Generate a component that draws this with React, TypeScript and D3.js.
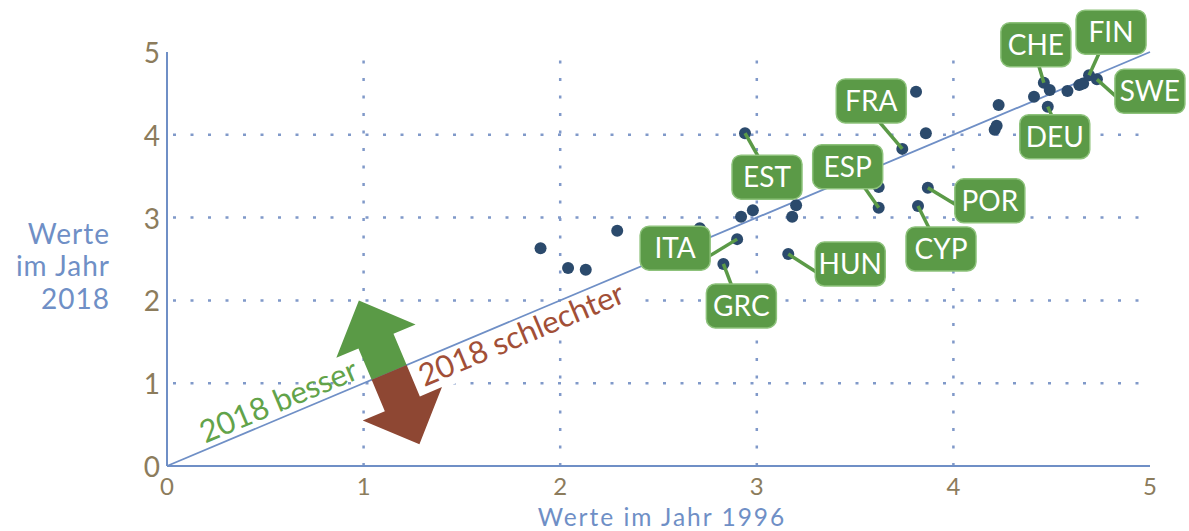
import React from 'react';
import * as d3 from 'd3';

// country scores: 1996 (x) vs 2018 (y); '' = unlabeled point
const codes = ['', '', '', '', '', 'ITA', 'GRC', '', '', 'EST', 'HUN', '', '', 'ESP', '', 'FRA',
  '', '', 'CYP', 'POR', '', '', '', '', 'CHE', '', 'DEU', '', '', '', 'FIN', 'SWE'];
const x1996 = [1.90, 2.04, 2.13, 2.29, 2.71, 2.90, 2.83, 2.92, 2.98, 2.94, 3.16, 3.18, 3.20, 3.62, 3.62, 3.74,
  3.81, 3.86, 3.82, 3.87, 4.21, 4.22, 4.23, 4.41, 4.46, 4.49, 4.48, 4.58, 4.64, 4.66, 4.69, 4.73];
const y2018 = [2.63, 2.39, 2.37, 2.84, 2.87, 2.74, 2.44, 3.01, 3.09, 4.02, 2.56, 3.01, 3.15, 3.12, 3.37, 3.83,
  4.52, 4.02, 3.14, 3.36, 4.06, 4.11, 4.36, 4.46, 4.63, 4.54, 4.34, 4.53, 4.60, 4.62, 4.72, 4.67];
const ticks = [0, 1, 2, 3, 4, 5];
const gridTicks = [1, 2, 3, 4];

// callout placement (pixel offset of box centre from point, and tail anchor on the box)
const callouts: Record<string, { dx: number; dy: number; ax: number; ay: number }> = {
  EST: { dx: 22, dy: 44, ax: -9, ay: -21 },
  ESP: { dx: -31, dy: -41, ax: 17, ay: 21 },
  FRA: { dx: -31, dy: -48, ax: 8, ay: 21 },
  HUN: { dx: 62, dy: 10, ax: -34, ay: 8 },
  CYP: { dx: 23, dy: 43, ax: -12, ay: -21 },
  POR: { dx: 62, dy: 13, ax: -34, ay: 4 },
  ITA: { dx: -62, dy: 9, ax: 34, ay: 8 },
  GRC: { dx: 18, dy: 42, ax: -10, ay: -21 },
  CHE: { dx: -8, dy: -38, ax: 3, ay: 21 },
  FIN: { dx: 22, dy: -43, ax: -12, ay: 21 },
  SWE: { dx: 53, dy: 12, ax: -34, ay: 5 },
  DEU: { dx: 7, dy: 30, ax: -3, ay: -21 },
};

const W = 1189;
const H = 531;
const axisBlue = '#6f8fc6';
const tickBrown = '#8c7c5c';
const boxGreen = '#5b9a47';
const font = 'Lato, "Open Sans", sans-serif';

export default function App() {
  const x = d3.scaleLinear().domain([0, 5]).range([167, 1150]);
  const y = d3.scaleLinear().domain([0, 5]).range([466, 52]);

  // angle of the y = x line on screen
  const ang = (Math.atan2(y(5) - y(0), x(5) - x(0)) * 180) / Math.PI;
  const arrowAt = 1.13;
  const besserAt = 0.6;
  const schlechterAt = 1.77;

  const L = 78, HL = 44, HW = 43, SW = 19;
  const greenArrow = `M0,${-L} L${HW},${-L + HL} L${SW},${-L + HL} L${SW},0 L${-SW},0 L${-SW},${-L + HL} L${-HW},${-L + HL} Z`;
  const redArrow = `M0,${L} L${HW},${L - HL} L${SW},${L - HL} L${SW},0 L${-SW},0 L${-SW},${L - HL} L${-HW},${L - HL} Z`;

  const pts = codes.map((c, i) => ({ code: c, px: x(x1996[i]), py: y(y2018[i]) }));

  return (
    <svg width={W} height={H} style={{ position: 'absolute', left: 0, top: 0, background: '#fff' }} fontFamily={font}>
      {/* grid */}
      {gridTicks.map(t => (
        <g key={'g' + t} stroke="#8099c9" strokeWidth={2.5} strokeDasharray="3 14.5">
          <line x1={x(t)} x2={x(t)} y1={y(0)} y2={y(4.9)} />
          <line x1={x(0) + 6} x2={x(4.95)} y1={y(t)} y2={y(t)} />
        </g>
      ))}

      {/* axes */}
      <line x1={x(0)} x2={x(0)} y1={y(0)} y2={y(5)} stroke={axisBlue} strokeWidth={2} />
      <line x1={x(0)} x2={x(5)} y1={y(0)} y2={y(0)} stroke={axisBlue} strokeWidth={2} />
      {ticks.map(t => (
        <text key={'y' + t} x={x(0) - 7} y={y(t) + 11} textAnchor="end" fontSize={28} fill={tickBrown}>{t}</text>
      ))}
      {ticks.map(t => (
        <text key={'x' + t} x={x(t)} y={495} textAnchor="middle" fontSize={24} fill={tickBrown}>{t}</text>
      ))}
      <text x={662} y={525.5} textAnchor="middle" fontSize={24.5} letterSpacing={2} fill={axisBlue}>Werte im Jahr 1996</text>
      <text textAnchor="end" fontSize={28} letterSpacing={1} fill={axisBlue}>
        <tspan x={110} y={244}>Werte</tspan>
        <tspan x={110} y={276}>im Jahr</tspan>
        <tspan x={110} y={309}>2018</tspan>
      </text>

      {/* diagonal */}
      <line x1={x(0)} y1={y(0)} x2={x(5)} y2={y(5)} stroke={axisBlue} strokeWidth={1.8} />

      {/* annotations along the diagonal */}
      <g transform={`translate(${x(besserAt)},${y(besserAt)}) rotate(${ang})`}>
        <text y={-6} textAnchor="middle" fontSize={31} fill="#62a34a">2018 besser</text>
      </g>
      <g transform={`translate(${x(schlechterAt)},${y(schlechterAt)}) rotate(${ang})`}>
        <rect x={-115} y={2} width={230} height={34} fill="#fff" />
        <text y={27} textAnchor="middle" fontSize={31} fill="#a24f37">2018 schlechter</text>
      </g>
      <g transform={`translate(${x(arrowAt)},${y(arrowAt)}) rotate(${ang})`}>
        <path d={greenArrow} fill="#5a9a46" />
        <path d={redArrow} fill="#8e4733" />
      </g>

      {/* points */}
      {pts.map((p, i) => (
        <circle key={'p' + i} cx={p.px} cy={p.py} r={6} fill="#2b4a6c" />
      ))}

      {/* callouts */}
      {pts.filter(p => p.code && callouts[p.code]).map(p => {
        const c = callouts[p.code];
        const bx = p.px + c.dx;
        const by = p.py + c.dy;
        return (
          <g key={'c' + p.code}>
            <line x1={p.px} y1={p.py} x2={bx + c.ax} y2={by + c.ay} stroke={boxGreen} strokeWidth={3.5} />
            <rect x={bx - 35} y={by - 22} width={70} height={44} rx={9} fill={boxGreen} stroke="#8dc27b" strokeWidth={1.5} />
            <text x={bx} y={by + 10} textAnchor="middle" fontSize={28} fill="#fff">{p.code}</text>
          </g>
        );
      })}
    </svg>
  );
}
